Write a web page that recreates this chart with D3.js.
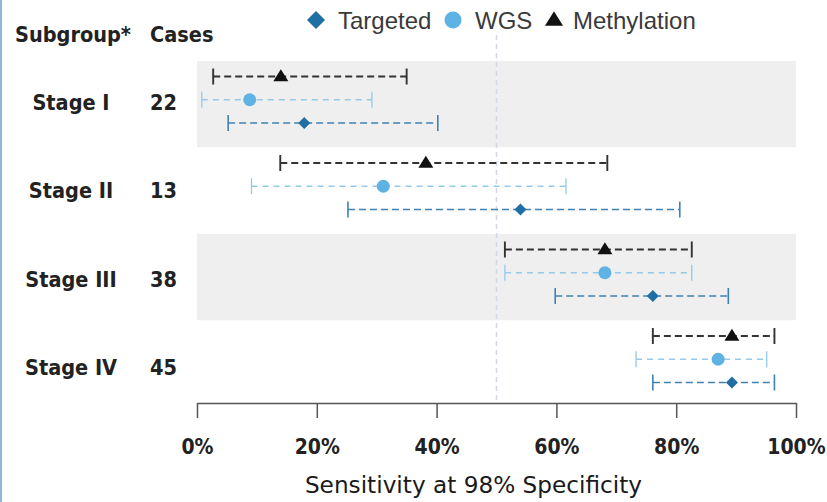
<!DOCTYPE html>
<html><head><meta charset="utf-8">
<script src="https://cdn.jsdelivr.net/npm/d3@7"></script>
<style>body{margin:0;background:#fff}svg{display:block}</style>
</head><body>
<script>
const subgroups = ["Stage I", "Stage II", "Stage III", "Stage IV"];
const cases = [22, 13, 38, 45];
const methods = ["Methylation", "WGS", "Targeted"];
const legendOrder = ["Targeted", "WGS", "Methylation"];
// [point, lower, upper] in %
const methylation = [[14, 2.7, 35], [38.2, 13.9, 68.5], [68.1, 51.4, 82.6], [89.3, 76.1, 96.4]];
const wgs = [[8.8, 0.8, 29.2], [31.1, 9.1, 61.6], [68.1, 51.4, 82.6], [87, 73.3, 95.1]];
const targeted = [[17.9, 5.2, 40.2], [54, 25.2, 80.6], [76.1, 59.8, 88.7], [89.3, 76.1, 96.4]];
const xTicks = [0, 20, 40, 60, 80, 100];
const refLine = 50;

const W = 827, H = 502;
const svg = d3.select("body").append("svg").attr("width", W).attr("height", H);
const x = d3.scaleLinear().domain([0, 100]).range([197, 796]);
const yBand = d3.scaleBand().domain(subgroups).range([61, 407]).paddingInner(0);
const yInner = d3.scalePoint().domain(methods).range([15.5, 62]);
const yLabel = d3.scalePoint().domain(subgroups).range([110, 375]);

const style = {
  Methylation: {color: "#111", line: "#333", dash: "7,4", w: 1.9, tick: "#333"},
  WGS: {color: "#5eb3e4", line: "#95c9e8", dash: "6,5", w: 1.3, tick: "#95c9e8"},
  Targeted: {color: "#1f6ea4", line: "#3f82b0", dash: "7,4", w: 1.6, tick: "#3f82b0"}
};
const dataBy = {Methylation: methylation, WGS: wgs, Targeted: targeted};

// left border
svg.append("line").attr("x1", 1).attr("x2", 1).attr("y1", 0).attr("y2", H)
  .attr("stroke", "#8fb8d8").attr("stroke-width", 2);

// bands
svg.selectAll("rect.band").data(subgroups).join("rect")
  .attr("x", x(0)).attr("width", x(100) - x(0))
  .attr("y", d => yBand(d)).attr("height", yBand.bandwidth())
  .attr("fill", (d, i) => i % 2 === 0 ? "#efefef" : "#ffffff");

// reference line
svg.append("line").attr("x1", x(refLine)).attr("x2", x(refLine))
  .attr("y1", 35).attr("y2", 403)
  .attr("stroke", "#d0d8e4").attr("stroke-width", 1.5).attr("stroke-dasharray", "5,4");

// axis
const axis = d3.axisBottom(x).tickValues(xTicks).tickFormat(d => d + "%").tickSize(15).tickSizeOuter(0);
const gAx = svg.append("g").attr("transform", "translate(0,403)").call(axis);
gAx.select(".domain").attr("stroke", "#555").attr("stroke-width", 1.5);
gAx.selectAll(".tick line").attr("stroke", "#555").attr("stroke-width", 1.5);
gAx.selectAll(".tick text").attr("y", 36).attr("font-family", "DejaVu Sans Condensed, DejaVu Sans")
  .attr("font-size", 21).attr("fill", "#222").attr("font-weight", "bold");

svg.append("text").attr("x", 473.5).attr("y", 493).attr("text-anchor", "middle")
  .attr("font-family", "DejaVu Sans").attr("font-size", 23.2).attr("fill", "#1a1a1a")
  .text("Sensitivity at 98% Specificity");

// headers
const hdrFont = "DejaVu Sans Condensed, DejaVu Sans";
svg.append("text").attr("x", 15).attr("y", 42).attr("font-family", hdrFont).attr("font-weight", "bold")
  .attr("font-size", 21.5).attr("fill", "#222").text("Subgroup*");
svg.append("text").attr("x", 150).attr("y", 42).attr("font-family", hdrFont).attr("font-weight", "bold")
  .attr("font-size", 21.5).attr("fill", "#222").text("Cases");

subgroups.forEach((s, i) => {
  svg.append("text").attr("x", 71).attr("y", yLabel(s)).attr("text-anchor", "middle")
    .attr("font-family", hdrFont).attr("font-weight", "bold")
    .attr("font-size", 21.5).attr("fill", "#222").text(s);
  svg.append("text").attr("x", 177).attr("y", yLabel(s)).attr("text-anchor", "end")
    .attr("font-family", hdrFont).attr("font-weight", "bold")
    .attr("font-size", 21.5).attr("fill", "#222").text(cases[i]);
});

function marker(g, m, cx, cy, s) {
  const st = style[m];
  if (m === "Targeted") {
    g.append("path").attr("d", d3.symbol(d3.symbolSquare, s * s * 0.5)())
      .attr("transform", `translate(${cx},${cy}) rotate(45)`).attr("fill", st.color);
  } else if (m === "WGS") {
    g.append("circle").attr("cx", cx).attr("cy", cy).attr("r", s / 2).attr("fill", st.color);
  } else {
    const h = s * 0.8;
    g.append("path").attr("d", `M${cx},${cy - h * 0.6}L${cx + s / 2},${cy + h * 0.4}L${cx - s / 2},${cy + h * 0.4}Z`)
      .attr("fill", st.color);
  }
}

// error bars
subgroups.forEach((s, i) => {
  methods.forEach(m => {
    const [p, lo, hi] = dataBy[m][i];
    const st = style[m];
    const cy = yBand(s) + yInner(m);
    const g = svg.append("g");
    g.append("line").attr("x1", x(lo)).attr("x2", x(hi)).attr("y1", cy).attr("y2", cy)
      .attr("stroke", st.line).attr("stroke-width", st.w).attr("stroke-dasharray", st.dash);
    [lo, hi].forEach(v => g.append("line").attr("x1", x(v)).attr("x2", x(v))
      .attr("y1", cy - 8).attr("y2", cy + 8).attr("stroke", st.tick).attr("stroke-width", st.w));
    marker(g, m, x(p), cy, m === "WGS" ? 13 : (m === "Targeted" ? 12 : 15));
  });
});

// legend
const legX = {Targeted: 316, WGS: 453, Methylation: 554};
const legT = {Targeted: 338, WGS: 475, Methylation: 573};
legendOrder.forEach(m => {
  const g = svg.append("g");
  marker(g, m, legX[m], 20, m === "WGS" ? 17 : 18);
  g.append("text").attr("x", legT[m]).attr("y", 29).attr("font-family", "Liberation Sans, Arial")
    .attr("font-size", 24).attr("fill", "#3a3a3a").text(m);
});
</script>
</body></html>
